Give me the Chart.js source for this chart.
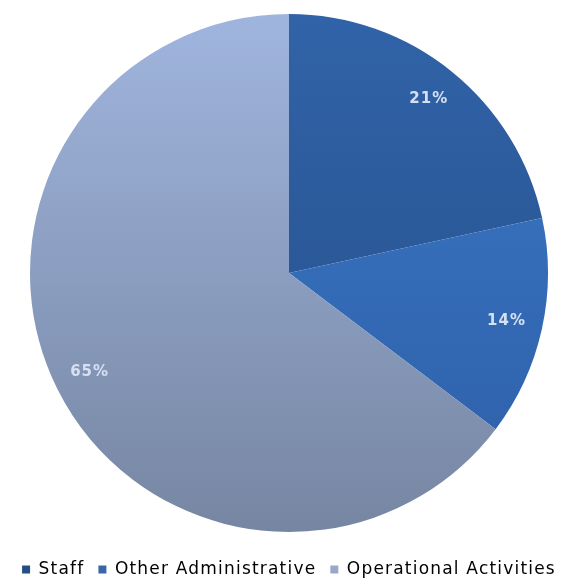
<!DOCTYPE html>
<html><head><meta charset="utf-8">
<script src="https://cdn.jsdelivr.net/npm/chart.js@4"></script>
<style>html,body{margin:0;padding:0;background:#fff}#wrap{width:571px;height:581px}</style>
</head><body><div id="wrap"><canvas id="c" width="571" height="581"></canvas></div>
<script>
const categories = ["Staff", "Other Administrative", "Operational Activities"];
const values = [21.6, 13.7, 64.7];
const labelsText = ["21%", "14%", "65%"];
const topColors = ["#3163a8", "#3b79c8", "#a0b5de"];
const bottomColors = ["#244e88", "#2d5ea6", "#7686a2"];
const legendColors = ["#244e88", "#3a66a8", "#9aa8c8"];

function grad(ctx, i) {
  const chart = ctx.chart;
  const a = chart.chartArea;
  if (!a) return topColors[i];
  const g = chart.ctx.createLinearGradient(0, a.top, 0, a.bottom);
  g.addColorStop(0, topColors[i]);
  g.addColorStop(1, bottomColors[i]);
  return g;
}

const sliceLabels = {
  id: 'sliceLabels',
  afterDatasetsDraw(chart) {
    const c = chart.ctx;
    const meta = chart.getDatasetMeta(0);
    c.save();
    c.font = 'bold 15px "DejaVu Sans"';
    c.letterSpacing = '1px';
    c.fillStyle = '#d6e0f2';
    c.textAlign = 'center';
    c.textBaseline = 'middle';
    meta.data.forEach((arc, i) => {
      const mid = (arc.startAngle + arc.endAngle) / 2;
      const r = arc.outerRadius * 0.86;
      c.fillText(labelsText[i], arc.x + Math.cos(mid) * r, arc.y + Math.sin(mid) * r);
    });
    c.restore();
  }
};

const spacing = {
  id: 'spacing',
  beforeLayout(chart) { chart.ctx.letterSpacing = '1.2px'; },
  afterLayout(chart) {
    const lg = chart.legend;
    if (lg) { lg.top += 15; lg.bottom += 15; }
  },
  beforeDraw(chart) { chart.ctx.letterSpacing = '1.2px'; }
};

new Chart(document.getElementById('c'), {
  type: 'pie',
  data: {
    labels: categories,
    datasets: [{
      data: values,
      backgroundColor: (ctx) => grad(ctx, ctx.dataIndex),
      borderWidth: 0
    }]
  },
  options: {
    responsive: false,
    animation: false,
    layout: { padding: { top: 14, bottom: 8, left: 7, right: 0 } },
    plugins: {
      tooltip: { enabled: false },
      legend: {
        position: 'bottom',
        labels: {
          boxWidth: 8,
          boxHeight: 8,
          padding: 14,
          color: '#4a4a4a',
          font: { family: '"DejaVu Sans"', size: 17 },
          generateLabels(chart) {
            return categories.map((t, i) => ({
              text: t, fillStyle: legendColors[i], strokeStyle: legendColors[i], lineWidth: 0, index: i, hidden: false
            }));
          }
        }
      }
    }
  },
  plugins: [spacing, sliceLabels]
});
</script></body></html>
